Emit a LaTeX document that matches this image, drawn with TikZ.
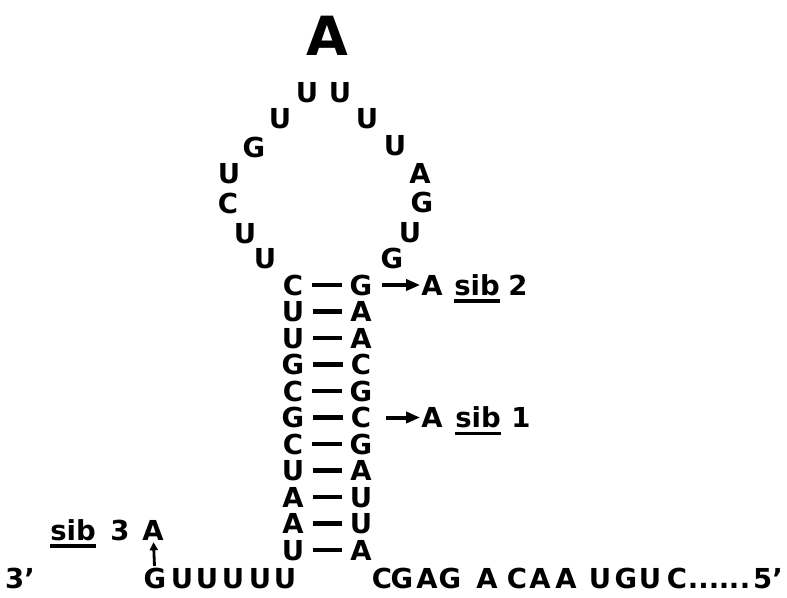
\documentclass[tikz,border=0pt]{standalone}
\usepackage{fontspec}
\setmainfont{DejaVu Sans}
\usetikzlibrary{arrows.meta}
\begin{document}
\begin{tikzpicture}[x=1pt,y=-1pt,
  nt/.style={font=\fontsize{27.5}{27.5}\selectfont\bfseries, inner sep=0pt, text height=20pt, text depth=0pt},
  big/.style={font=\fontsize{54}{54}\selectfont\bfseries, inner sep=0pt, text height=40pt, text depth=0pt},
  pair/.style={line width=4.5pt, shorten <=9pt, shorten >=8pt},
  arr/.style={line width=4pt, -{Triangle[length=14pt,width=11pt]}},
  uline/.style={line width=3.5pt}]
\useasboundingbox (0,0) rectangle (787,597);
% top A
\node[big] (topA) at (327,35) {A};
% loop
\foreach \t/\x/\y/\n in {U/307/92/la, U/280/118/lb, G/254/147/lc, U/229/173/ld, C/228/203/le, U/245/233/lf, U/265/258/lg,
  U/340/92/ra, U/367/118/rb, U/395/145/rc, A/420/173/rd, G/422/202/re, U/410/232/rf, G/392/258/rg}
  \node[nt] (\n) at (\x,\y) {\t};
% stem
\foreach \l/\r [count=\i from 0] in {C/G,U/A,U/A,G/C,C/G,G/C,C/G,U/A,A/U,A/U,U/A} {
  \node[nt] (L\i) at (293,{285+26.5*\i}) {\l};
  \node[nt] (R\i) at (361,{285+26.5*\i}) {\r};
  \draw[pair] (L\i) -- (R\i);
}
% sib 2
\node[nt] (A2) at (432,285) {A};
\draw[arr, shorten <=10pt, shorten >=1pt] (R0) -- (A2);
\node[nt] (s2) at (477,285) {sib};
\draw[uline] ([yshift=-6pt]s2.south west) -- ([yshift=-6pt]s2.south east);
\node[nt] (n2) at (518,285) {2};
% sib 1
\node[nt] (A1) at (432,417.5) {A};
\draw[arr, shorten <=15pt, shorten >=1pt] (R5) -- (A1);
\node[nt] (s1) at (478,417.5) {sib};
\draw[uline] ([yshift=-6pt]s1.south west) -- ([yshift=-6pt]s1.south east);
\node[nt] (n1) at (521,417.5) {1};
% bottom left
\node[nt] (p3) at (20,578) {3'};
\node[nt] (g0) at (155,578) {G};
\foreach \x [count=\i] in {182,207,233,260,285}
  \node[nt] (u\i) at (\x,578) {U};
\node[nt] (A3) at (153,530) {A};
\draw[line width=2.8pt, -{Triangle[length=8pt,width=8pt]}, shorten <=2pt, shorten >=2pt] (g0) -- (A3);
\node[nt] (s3) at (73,530) {sib};
\draw[uline] ([yshift=-6pt]s3.south west) -- ([yshift=-6pt]s3.south east);
\node[nt] (n3) at (120,530) {3};
% bottom right
\foreach \t/\x [count=\i] in {C/382,G/402,A/427,G/450,A/487,C/517,A/540,A/566,U/600,G/626,U/650,C/677}
  \node[nt] (b\i) at (\x,578) {\t};
\foreach \x [count=\i] in {693,703.5,714,724,734,745}
  \node[nt] (d\i) at (\x,578) {.};
\node[nt] (p5) at (768,578) {5'};
\end{tikzpicture}
\end{document}
